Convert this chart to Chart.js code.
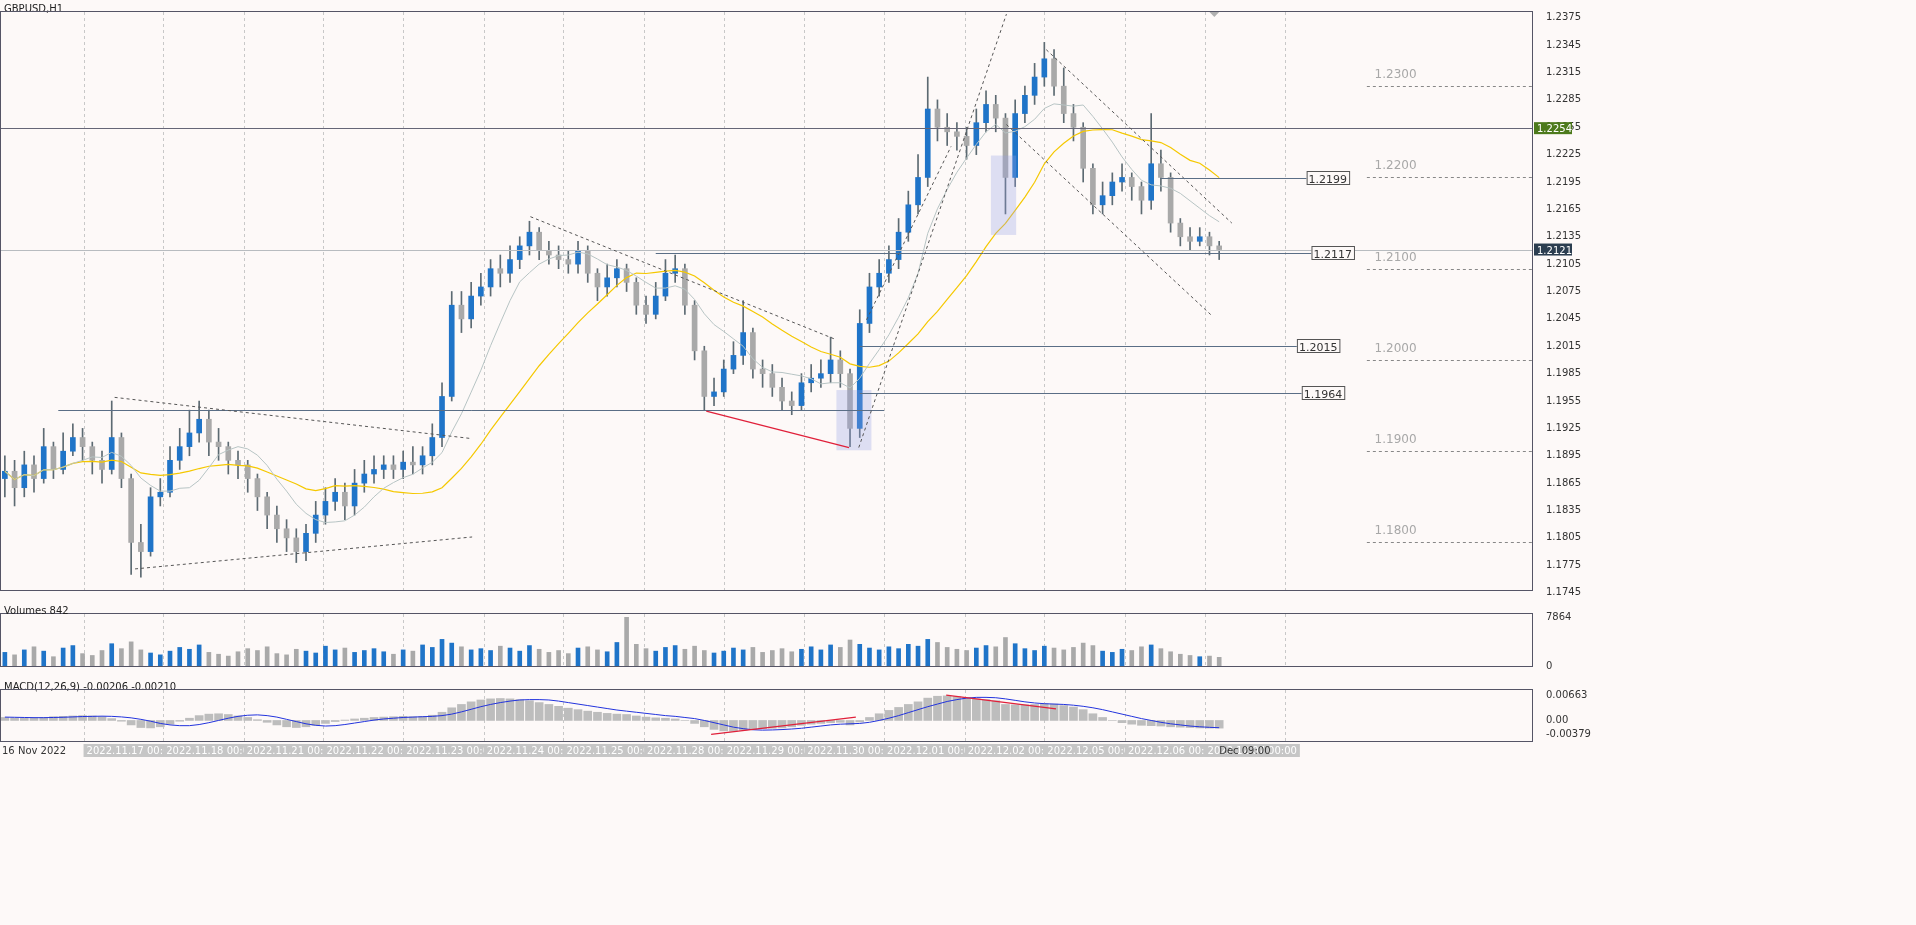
<!DOCTYPE html>
<html><head><meta charset="utf-8">
<script src="https://cdn.jsdelivr.net/npm/chart.js@4"></script>
<style>
body{margin:0;background:#fdf9f8;width:1916px;height:925px;overflow:hidden;font-family:"DejaVu Sans",sans-serif}
.p{position:absolute;left:0;width:1916px}
</style></head><body>
<div class="p" style="top:0;height:602px"><canvas id="c1"></canvas></div>
<div class="p" style="top:602px;height:76px"><canvas id="c2"></canvas></div>
<div class="p" style="top:678px;height:85px"><canvas id="c3"></canvas></div>
<script>
const closes=[1.1878,1.1860,1.1885,1.1870,1.1905,1.1880,1.1900,1.1915,1.1905,1.1890,1.1880,1.1915,1.1870,1.1800,1.1790,1.1850,1.1855,1.1890,1.1905,1.1920,1.1935,1.1910,1.1905,1.1890,1.1885,1.1870,1.1850,1.1830,1.1815,1.1805,1.1790,1.1810,1.1830,1.1845,1.1855,1.1840,1.1865,1.1875,1.1880,1.1885,1.1880,1.1888,1.1885,1.1895,1.1915,1.1960,1.2060,1.2045,1.2070,1.2080,1.2100,1.2095,1.2110,1.2125,1.2140,1.2120,1.2115,1.2110,1.2105,1.2120,1.2095,1.2080,1.2090,1.2100,1.2085,1.2060,1.2050,1.2070,1.2095,1.2100,1.2060,1.2010,1.1960,1.1965,1.1990,1.2005,1.2030,1.1990,1.1985,1.1970,1.1955,1.1950,1.1975,1.1980,1.1985,1.2000,1.1985,1.1925,1.2040,1.2080,1.2095,1.2110,1.2140,1.2170,1.2200,1.2275,1.2255,1.2250,1.2245,1.2235,1.2260,1.2280,1.2265,1.2200,1.2270,1.2290,1.2310,1.2330,1.2300,1.2270,1.2255,1.2210,1.2170,1.2180,1.2195,1.2200,1.2190,1.2175,1.2215,1.2200,1.2150,1.2135,1.2130,1.2135,1.2125,1.2121];
const firstOpen=1.1870;
const highs=[1.1895,1.1890,1.1900,1.1895,1.1925,1.1910,1.1920,1.1930,1.1925,1.1910,1.1900,1.1955,1.1920,1.1875,1.1820,1.1860,1.1870,1.1905,1.1925,1.1945,1.1955,1.1945,1.1925,1.1910,1.1900,1.1890,1.1875,1.1855,1.1840,1.1825,1.1815,1.1820,1.1845,1.1860,1.1870,1.1865,1.1880,1.1890,1.1895,1.1895,1.1895,1.1900,1.1905,1.1905,1.1930,1.1975,1.2075,1.2075,1.2085,1.2095,1.2110,1.2115,1.2125,1.2135,1.2152,1.2145,1.2130,1.2125,1.2120,1.2130,1.2125,1.2100,1.2105,1.2110,1.2105,1.2090,1.2070,1.2085,1.2110,1.2115,1.2105,1.2065,1.2015,1.1980,1.2000,1.2020,1.2065,1.2035,1.2000,1.1995,1.1980,1.1965,1.1985,1.1995,1.2000,1.2025,1.2010,1.1990,1.2055,1.2095,1.2110,1.2125,1.2155,1.2185,1.2225,1.2310,1.2285,1.2270,1.2260,1.2255,1.2275,1.2295,1.2290,1.2270,1.2285,1.2300,1.2325,1.2348,1.2340,1.2320,1.2280,1.2260,1.2215,1.2195,1.2205,1.2215,1.2205,1.2195,1.2270,1.2230,1.2205,1.2155,1.2145,1.2145,1.2140,1.2130];
const lows=[1.1850,1.1840,1.1850,1.1855,1.1865,1.1870,1.1875,1.1895,1.1890,1.1875,1.1865,1.1875,1.1860,1.1765,1.1762,1.1785,1.1840,1.1850,1.1880,1.1895,1.1910,1.1895,1.1890,1.1875,1.1870,1.1855,1.1835,1.1815,1.1800,1.1790,1.1778,1.1780,1.1800,1.1820,1.1835,1.1825,1.1830,1.1855,1.1865,1.1870,1.1870,1.1870,1.1875,1.1875,1.1885,1.1905,1.1955,1.2030,1.2035,1.2060,1.2070,1.2080,1.2085,1.2100,1.2115,1.2110,1.2105,1.2100,1.2095,1.2095,1.2085,1.2065,1.2070,1.2080,1.2075,1.2050,1.2040,1.2045,1.2065,1.2085,1.2050,1.2000,1.1945,1.1950,1.1960,1.1985,1.1995,1.1980,1.1970,1.1960,1.1945,1.1940,1.1945,1.1965,1.1970,1.1975,1.1970,1.1905,1.1915,1.2030,1.2070,1.2085,1.2100,1.2130,1.2160,1.2190,1.2240,1.2235,1.2230,1.2220,1.2225,1.2250,1.2250,1.2160,1.2190,1.2260,1.2280,1.2300,1.2290,1.2260,1.2240,1.2195,1.2160,1.2160,1.2170,1.2185,1.2175,1.2160,1.2165,1.2185,1.2140,1.2125,1.2120,1.2125,1.2115,1.2110];
const volumes=[2200,1800,2600,3100,2400,1500,2900,3300,2000,1700,2500,3600,2800,3900,2600,2100,1800,2400,3000,2700,3400,2200,1900,1600,2300,2800,2500,3100,2000,1800,2700,2400,2100,3200,2600,2900,2200,2500,2800,2300,1900,2600,2400,3400,3000,4300,3700,3100,2600,2800,2500,3200,2900,2400,3300,2700,2200,2500,2000,2900,3100,2600,2300,3800,7864,3500,2800,2400,3000,3300,2700,3200,2500,2100,2400,2900,2600,3000,2200,2500,2800,2300,2700,3100,2600,3400,3000,4200,3500,2900,2600,3100,2800,3500,3200,4300,3800,3000,2700,2500,2900,3300,3100,4600,3600,2800,2500,3200,2900,2600,3000,3700,3300,2400,2200,2700,2500,3100,3400,2800,2300,1900,1700,1500,1600,1400];
const macdMain=[80,70,60,70,80,100,110,120,130,120,100,50,-20,-120,-190,-200,-170,-100,-20,60,130,170,180,160,120,80,20,-50,-120,-170,-190,-170,-130,-80,-30,10,40,60,80,90,100,110,100,110,140,220,340,430,500,550,580,590,580,560,530,480,430,380,330,290,250,220,190,170,160,120,90,70,60,40,0,-80,-170,-240,-280,-290,-260,-240,-220,-210,-200,-170,-130,-100,-80,-60,-50,-120,-40,80,180,270,350,430,500,600,650,660,640,610,580,560,530,430,420,420,430,450,440,400,360,290,180,80,0,-60,-100,-130,-140,-150,-170,-180,-190,-200,-205,-206];
const macdSignal=[90,85,80,75,75,80,85,95,105,110,115,110,95,70,30,-20,-80,-120,-140,-140,-110,-60,0,60,110,140,150,130,90,30,-30,-90,-130,-150,-140,-110,-70,-30,10,40,60,80,90,100,110,130,170,230,300,370,430,480,520,550,560,560,550,520,480,440,400,360,320,280,250,220,190,160,130,110,80,50,0,-60,-120,-180,-220,-250,-260,-255,-245,-230,-210,-180,-150,-120,-100,-90,-80,-50,0,60,130,210,290,370,440,510,560,600,620,620,610,580,540,500,470,450,440,430,410,380,340,290,230,170,110,50,0,-50,-90,-120,-150,-170,-185,-195];
const priceTicks=[1.2375,1.2345,1.2315,1.2285,1.2255,1.2225,1.2195,1.2165,1.2135,1.2105,1.2075,1.2045,1.2015,1.1985,1.1955,1.1925,1.1895,1.1865,1.1835,1.1805,1.1775,1.1745];
const gridIdx=[8.1,16.3,24.6,32.8,41.0,49.3,57.5,65.8,74.0,82.3,90.5,98.8,107.0,115.3,123.5,131.8];
const dateLabels=[["2022.11.17 00:00",8.1],["2022.11.18 00:00",16.3],["2022.11.21 00:00",24.6],["2022.11.22 00:00",32.8],["2022.11.23 00:00",41.0],["2022.11.24 00:00",49.3],["2022.11.25 00:00",57.5],["2022.11.28 00:00",65.8],["2022.11.29 00:00",74.0],["2022.11.30 00:00",82.3],["2022.12.01 00:00",90.5],["2022.12.02 00:00",98.8],["2022.12.05 00:00",107.0],["2022.12.06 00:00",115.3],["2022.12.07 00:00",123.5]];
const dashedTrend=[[[11.3,1.1959],[47.9,1.1914]],[[13.4,1.1771],[48.1,1.1806]],[[54.1,1.2157],[85.4,1.2023]],[[87.9,1.1904],[103.1,1.2379]],[[88.7,1.2044],[97.4,1.2234]],[[107.2,1.2340],[126.3,1.2150]],[[103.1,1.2258],[124.2,1.2049]]];
const redTrend=[[72.2,1.1944],[86.9,1.1904]];
const levels=[[1.2199,119,134],[1.2117,67,134.5],[1.2015,88,133],[1.1964,88,133.5]];
const roundLevels=[1.2300,1.2200,1.2100,1.2000,1.1900,1.1800];
const boxes=[[85.6,89.2,1.1967,1.1901],[101.5,104.1,1.2224,1.2137]];
const macdRed=[[[72.7,-0.00376],[87.6,0.00088]],[[96.9,0.0068],[108.2,0.0031]]];

const N=closes.length, XMIN=-0.5, XMAX=157.2, AXW=384;
const opens=closes.map((c,i)=>i?closes[i-1]:firstOpen);
const up=closes.map((c,i)=>c>=opens[i]);
const BLUE='#1f74c8', GRAY='#a9a9a9', WICK='#5c6a72';
function sma(p){return closes.map((c,i)=>{const st=Math.max(0,i-p+1);let s=0;for(let k=st;k<=i;k++)s+=closes[k];return s/(i-st+1);});}
const ma1=sma(8), ma2=sma(20);
const idx=[...Array(N).keys()];
const xScale={type:'linear',min:XMIN,max:XMAX,offset:false,display:false};
function yAx(o){return Object.assign({position:'right',afterFit(s){s.width=AXW;},grid:{display:false},border:{color:'#555'},ticks:{color:'#333',font:{size:10,family:'DejaVu Sans'},padding:6}},o);}
function line(ctx,x1,y1,x2,y2,c,w,d){ctx.save();ctx.strokeStyle=c;ctx.lineWidth=w;ctx.setLineDash(d||[]);ctx.beginPath();ctx.moveTo(x1,y1);ctx.lineTo(x2,y2);ctx.stroke();ctx.restore();}
function gridPlugin(){return{id:'g',beforeDatasetsDraw(ch){const {ctx,chartArea:a,scales:{x}}=ch;ctx.save();ctx.beginPath();ctx.rect(a.left,a.top,a.right-a.left,a.bottom-a.top);ctx.clip();gridIdx.forEach(g=>{const px=Math.round(x.getPixelForValue(g))+.5;line(ctx,px,a.top,px,a.bottom,'#c8c8c8',1,[3,3]);});ctx.restore();},
afterDraw(ch){const {ctx,chartArea:a}=ch;ctx.save();ctx.strokeStyle='#556';ctx.lineWidth=1;ctx.strokeRect(.5,a.top-.5,a.right,a.bottom-a.top+1);ctx.restore();}};}
Chart.defaults.animation=false;Chart.defaults.font.family='DejaVu Sans';
const common={responsive:true,maintainAspectRatio:false,layout:{padding:{top:1,bottom:0,left:0,right:0}},plugins:{legend:{display:false},tooltip:{enabled:false}}};

new Chart(document.getElementById('c1'),{type:'bar',data:{datasets:[
 {type:'line',data:idx.map(i=>({x:i,y:ma1[i]})),borderColor:'#b7c4c4',borderWidth:1,pointRadius:0,order:0},
 {type:'line',data:idx.map(i=>({x:i,y:ma2[i]})),borderColor:'#f5c800',borderWidth:1.2,pointRadius:0,order:0},
 {data:idx.map(i=>({x:i,y:[lows[i],highs[i]]})),backgroundColor:WICK,barThickness:1,grouped:false,order:2},
 {data:idx.map(i=>({x:i,y:[opens[i],closes[i]===opens[i]?opens[i]+0.00005:closes[i]]})),backgroundColor:idx.map(i=>up[i]?BLUE:GRAY),barThickness:5,grouped:false,order:1}
]},options:Object.assign({},common,{scales:{x:xScale,y:yAx({min:1.17479,max:1.23813,afterBuildTicks(s){s.ticks=priceTicks.map(v=>({value:v}));},ticks:{color:'#333',font:{size:10},padding:6,callback:v=>v.toFixed(4)}})}}),
plugins:[gridPlugin(),{id:'ann',afterDatasetsDraw(ch){const {ctx,chartArea:a,scales:{x,y}}=ch;const X=v=>x.getPixelForValue(v),Y=v=>y.getPixelForValue(v);
 ctx.save();ctx.beginPath();ctx.rect(a.left,a.top,a.right-a.left,a.bottom-a.top);ctx.clip();
 boxes.forEach(b=>{ctx.fillStyle='rgba(150,160,230,0.3)';ctx.fillRect(X(b[0]),Y(b[2]),X(b[1])-X(b[0]),Y(b[3])-Y(b[2]));});
 line(ctx,a.left,Math.round(Y(1.2254))+.5,a.right,Math.round(Y(1.2254))+.5,'#667',1);
 line(ctx,a.left,Math.round(Y(1.2121))+.5,a.right,Math.round(Y(1.2121))+.5,'#b8bcc0',1);
 line(ctx,X(5.5),Math.round(Y(1.1945))+.5,X(90.5),Math.round(Y(1.1945))+.5,'#5a6e86',1);
 dashedTrend.forEach(t=>line(ctx,X(t[0][0]),Y(t[0][1]),X(t[1][0]),Y(t[1][1]),'#555',1,[3,3]));
 line(ctx,X(redTrend[0][0]),Y(redTrend[0][1]),X(redTrend[1][0]),Y(redTrend[1][1]),'#e0203a',1.3);
 ctx.font='11px DejaVu Sans';
 levels.forEach(l=>{const py=Math.round(Y(l[0]))+.5;line(ctx,X(l[1]),py,X(l[2]),py,'#5a6e86',1);const t=l[0].toFixed(4),w=ctx.measureText(t).width+4;ctx.fillStyle='#fdf9f8';ctx.fillRect(X(l[2]),py-7,w,13);ctx.strokeStyle='#555';ctx.strokeRect(X(l[2])+.5,py-7,w,13);ctx.fillStyle='#333';ctx.fillText(t,X(l[2])+2,py+4);});
 roundLevels.forEach(r=>{const py=Math.round(Y(r))+.5;line(ctx,X(140.2),py,a.right,py,'#888',1,[3,3]);ctx.fillStyle='#a8a8a8';ctx.font='12px DejaVu Sans';ctx.fillText(r.toFixed(4),X(141),py-9);});
 ctx.restore();
 [[1.2254,'#4d7a1c'],[1.2121,'#2c3e50']].forEach(p=>{const py=Y(p[0]);ctx.fillStyle=p[1];ctx.fillRect(a.right+2,py-6,38,12);ctx.fillStyle='#fff';ctx.font='10px DejaVu Sans';ctx.fillText(p[0].toFixed(4),a.right+5,py+4);});
 ctx.fillStyle='#222';ctx.font='10px DejaVu Sans';ctx.fillText('GBPUSD,H1',4,12);
 ctx.fillStyle='#b0b0b0';ctx.beginPath();ctx.moveTo(X(124),a.top);ctx.lineTo(X(125),a.top);ctx.lineTo(X(124.5),a.top+5);ctx.fill();
}}]});

new Chart(document.getElementById('c2'),{type:'bar',data:{datasets:[{data:idx.map(i=>({x:i,y:volumes[i]})),backgroundColor:idx.map(i=>up[i]?BLUE:GRAY),barThickness:4}]},
options:Object.assign({},common,{scales:{x:xScale,y:yAx({min:0,max:8400,afterBuildTicks(s){s.ticks=[{value:0},{value:7864}];},ticks:{color:'#333',font:{size:10},padding:6,callback:v=>String(v)}})}}),
plugins:[gridPlugin(),{id:'t',afterDraw(ch){const c=ch.ctx;c.fillStyle='#222';c.font='10px DejaVu Sans';c.fillText('Volumes 842',4,12);}}]});

new Chart(document.getElementById('c3'),{type:'bar',data:{datasets:[
 {type:'line',data:idx.map(i=>({x:i,y:macdSignal[i]/1e5})),borderColor:'#2233dd',borderWidth:1,pointRadius:0,order:0},
 {data:idx.map(i=>({x:i,y:macdMain[i]/1e5})),backgroundColor:'#bdbdbd',barThickness:8,order:1}]},
options:Object.assign({},common,{layout:{padding:{top:1,bottom:22,left:0,right:0}},scales:{x:xScale,y:yAx({min:-0.00552,max:0.00818,afterBuildTicks(s){s.ticks=[{value:0.00663},{value:0},{value:-0.00379}];},ticks:{color:'#333',font:{size:10},padding:6,callback:v=>v===0?'0.00':v.toFixed(5)}})}}),
plugins:[gridPlugin(),{id:'m',afterDatasetsDraw(ch){const {ctx,chartArea:a,scales:{x,y}}=ch;
 macdRed.forEach(t=>line(ctx,x.getPixelForValue(t[0][0]),y.getPixelForValue(t[0][1]),x.getPixelForValue(t[1][0]),y.getPixelForValue(t[1][1]),'#e0203a',1.3));
 ctx.fillStyle='#222';ctx.font='10px DejaVu Sans';ctx.fillText('MACD(12,26,9) -0.00206 -0.00210',4,12);
 const by=a.bottom+3;ctx.font='10px DejaVu Sans';
 ctx.fillStyle='#333';ctx.fillText('16 Nov 2022',2,by+10);
 dateLabels.forEach(d=>{const px=x.getPixelForValue(d[1]);const w=ctx.measureText(d[0]).width+6;ctx.fillStyle='#c6c6c6';ctx.fillRect(px,by,w,13);ctx.fillStyle='#fff';ctx.fillText(d[0],px+3,by+10);});
 ctx.fillStyle='#333';ctx.fillText('Dec 09:00',x.getPixelForValue(125),by+10);
}}]});
</script></body></html>
